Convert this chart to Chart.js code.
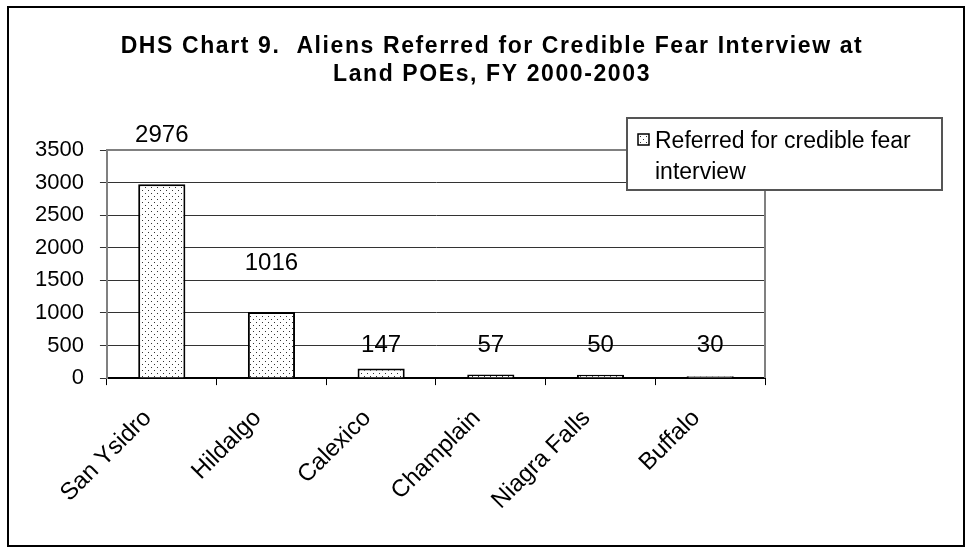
<!DOCTYPE html>
<html>
<head>
<meta charset="utf-8">
<script src="https://cdn.jsdelivr.net/npm/chart.js@4.4.1/dist/chart.umd.min.js"></script>
<style>
  html, body { margin: 0; padding: 0; background: #fff; }
  canvas { display: block; }
</style>
</head>
<body>
<canvas id="chart" width="966" height="548"></canvas>
<script>
const categories = ['San Ysidro', 'Hildalgo', 'Calexico', 'Champlain', 'Niagra Falls', 'Buffalo'];
const referred = [2976, 1016, 147, 57, 50, 30];
const yMin = 0, yMax = 3500, yStep = 500;
const seriesLabel = 'Referred for credible fear interview';
const titleLines = ['DHS Chart 9.  Aliens Referred for Credible Fear Interview at', 'Land POEs, FY 2000-2003'];

const FONT = 'Arial, "Liberation Sans", sans-serif';

const canvas = document.getElementById('chart');
const ctx = canvas.getContext('2d');

// excel-ish dotted fill
const dots = document.createElement('canvas');
dots.width = 6; dots.height = 6;
const d = dots.getContext('2d');
d.fillStyle = '#fff';
d.fillRect(0, 0, 6, 6);
d.fillStyle = '#333';
d.fillRect(1, 1, 1, 1);
d.fillRect(4, 4, 1, 1);
const dotFill = ctx.createPattern(dots, 'repeat');

// title, plot border, value labels, legend box, outer frame
const extras = {
    id: 'extras',
    beforeDatasetsDraw(chart) {
        const { ctx, chartArea: a } = chart;
        ctx.save();
        ctx.strokeStyle = '#808080';
        ctx.lineWidth = 2;
        ctx.beginPath();
        ctx.moveTo(a.left, a.top);
        ctx.lineTo(a.right, a.top);
        ctx.lineTo(a.right, a.bottom);
        ctx.stroke();
        ctx.restore();
    },
    afterDatasetsDraw(chart) {
        const { ctx } = chart;
        const y = chart.scales.y;
        ctx.save();
        ctx.font = `24px ${FONT}`;
        ctx.fillStyle = '#000';
        ctx.textAlign = 'center';
        ctx.textBaseline = 'middle';
        chart.getDatasetMeta(0).data.forEach((bar, i) => {
            const v = referred[i];
            ctx.fillText(String(v), bar.x, y.getPixelForValue(v > 500 ? v + 750 : 500));
        });
        ctx.restore();
    },
    afterDraw(chart) {
        const { ctx } = chart;
        ctx.save();
        ctx.fillStyle = '#000';
        ctx.textAlign = 'center';
        ctx.textBaseline = 'middle';
        ctx.font = `bold 23px ${FONT}`;
        ctx.letterSpacing = '1.6px';
        titleLines.forEach((t, i) => ctx.fillText(t, 492, 47 + i * 28));
        ctx.letterSpacing = '0px';

        // legend
        ctx.fillStyle = '#fff';
        ctx.fillRect(627, 118, 315, 72);
        ctx.strokeStyle = '#555';
        ctx.lineWidth = 2;
        ctx.strokeRect(627, 118, 315, 72);
        ctx.fillStyle = dotFill;
        ctx.fillRect(638, 134, 11, 11);
        ctx.strokeStyle = '#000';
        ctx.lineWidth = 1.5;
        ctx.strokeRect(638, 134, 11, 11);
        ctx.fillStyle = '#000';
        ctx.textAlign = 'left';
        ctx.font = `23px ${FONT}`;
        const words = seriesLabel.split(' ');
        const lines = [];
        let line = '';
        words.forEach(w => {
            const test = line ? line + ' ' + w : w;
            if (ctx.measureText(test).width > 280 && line) { lines.push(line); line = w; }
            else line = test;
        });
        lines.push(line);
        lines.forEach((l, i) => ctx.fillText(l, 655, 142 + i * 31));

        // outer frame
        ctx.strokeStyle = '#000';
        ctx.lineWidth = 2;
        ctx.strokeRect(8, 7, 956, 539);
        ctx.restore();
    }
};

new Chart(ctx, {
    type: 'bar',
    data: {
        labels: categories,
        datasets: [{
            label: seriesLabel,
            data: referred,
            backgroundColor: dotFill,
            borderColor: '#000',
            borderWidth: 2,
            barPercentage: 0.43,
            categoryPercentage: 1
        }]
    },
    options: {
        responsive: false,
        animation: false,
        devicePixelRatio: 1,
        layout: { padding: { left: 19, right: 201, top: 150, bottom: 14 } },
        plugins: { legend: { display: false }, title: { display: false }, tooltip: { enabled: false } },
        scales: {
            x: {
                grid: { drawOnChartArea: false, tickLength: 7, color: '#000', offset: true },
                border: { color: '#000', width: 2 },
                ticks: { color: '#000', font: { family: FONT, size: 24 }, minRotation: 45, maxRotation: 45, padding: 19, labelOffset: -14 }
            },
            y: {
                min: yMin,
                max: yMax,
                grid: { color: '#333', tickLength: 7, tickColor: '#333' },
                border: { color: '#808080', width: 2 },
                ticks: { stepSize: yStep, color: '#000', font: { family: FONT, size: 22 }, padding: 16, callback: v => String(v) }
            }
        }
    },
    plugins: [extras]
});
</script>
</body>
</html>
